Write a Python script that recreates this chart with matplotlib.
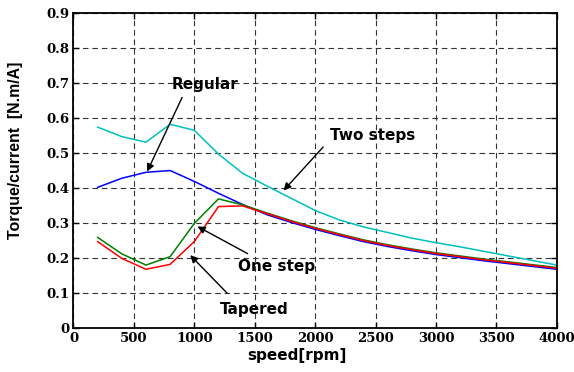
import numpy as np
import matplotlib
matplotlib.use('Agg')
import matplotlib.pyplot as plt

# speed [rpm]
speed = [200, 400, 600, 800, 1000, 1200, 1400, 1600, 1800, 2000,
         2200, 2400, 2600, 2800, 3000, 3200, 3400, 3600, 3800, 4000]

# torque/current [N.m/A]
two_steps = [0.573, 0.546, 0.530, 0.581, 0.564, 0.496, 0.441, 0.405, 0.370, 0.335,
             0.308, 0.288, 0.272, 0.256, 0.243, 0.231, 0.218, 0.205, 0.192, 0.179]
regular = [0.401, 0.427, 0.444, 0.449, 0.418, 0.384, 0.352, 0.323, 0.301, 0.281,
           0.263, 0.246, 0.232, 0.220, 0.209, 0.200, 0.191, 0.183, 0.175, 0.167]
one_step = [0.258, 0.211, 0.179, 0.203, 0.298, 0.368, 0.351, 0.328, 0.306, 0.286,
            0.268, 0.251, 0.237, 0.225, 0.214, 0.205, 0.196, 0.188, 0.180, 0.172]
tapered = [0.246, 0.198, 0.167, 0.181, 0.246, 0.346, 0.348, 0.326, 0.304, 0.284,
           0.266, 0.249, 0.235, 0.223, 0.212, 0.203, 0.194, 0.186, 0.178, 0.170]

x_ticks = [0, 500, 1000, 1500, 2000, 2500, 3000, 3500, 4000]
y_ticks = [0, 0.1, 0.2, 0.3, 0.4, 0.5, 0.6, 0.7, 0.8, 0.9]
y_ticklabels = ['0', '0.1', '0.2', '0.3', '0.4', '0.5', '0.6', '0.7', '0.8', '0.9']

# label text, arrow head, arrow tail, text centre (data coords)
notes = [
    ('Regular', (600, 0.439), (909, 0.665), (1089, 0.696)),
    ('Two steps', (1723, 0.386), (2082, 0.522), (2479, 0.548)),
    ('One step', (1006, 0.293), (1461, 0.208), (1677, 0.176)),
    ('Tapered', (950, 0.213), (1288, 0.093), (1500, 0.051)),
]

fig = plt.figure(figsize=(5.74, 3.72), dpi=100)
ax = fig.add_axes([0.128, 0.119, 0.842, 0.847])

ax.plot(speed, two_steps, color='#00bfbf', lw=1.1)
ax.plot(speed, regular, color='#0000ff', lw=1.1)
ax.plot(speed, one_step, color='#008000', lw=1.1)
ax.plot(speed, tapered, color='#ff0000', lw=1.1)

ax.set_xlim(0, 4000)
ax.set_ylim(0, 0.9)
ax.set_xticks(x_ticks)
ax.set_yticks(y_ticks)
ax.set_yticklabels(y_ticklabels)

for lab in ax.get_xticklabels() + ax.get_yticklabels():
    lab.set_fontfamily('DejaVu Serif')
    lab.set_fontweight('bold')
    lab.set_fontsize(9.5)

ax.tick_params(direction='in', length=4, width=1, top=True, right=True, pad=3)
ax.grid(True, color='0.2', linestyle=(0, (5, 3.5)), lw=0.8)
for sp in ax.spines.values():
    sp.set_linewidth(1.3)

ax.set_xlabel('speed[rpm]', fontsize=11, fontweight='bold')
ax.xaxis.set_label_coords(0.4625, -0.064)
ax.set_ylabel('Torque/current  [N.m/A]', fontsize=11.4, fontweight='bold',
              family='Liberation Sans')
ax.yaxis.set_label_coords(-0.104, 0.564)

for text, head, tail, pos in notes:
    ax.annotate('', xy=head, xytext=tail,
                arrowprops=dict(arrowstyle='-|>', color='k', lw=1.0, mutation_scale=11))
    ax.text(pos[0], pos[1], text, fontsize=11, fontweight='bold',
            ha='center', va='center')

fig.savefig('out.png', dpi=100)
